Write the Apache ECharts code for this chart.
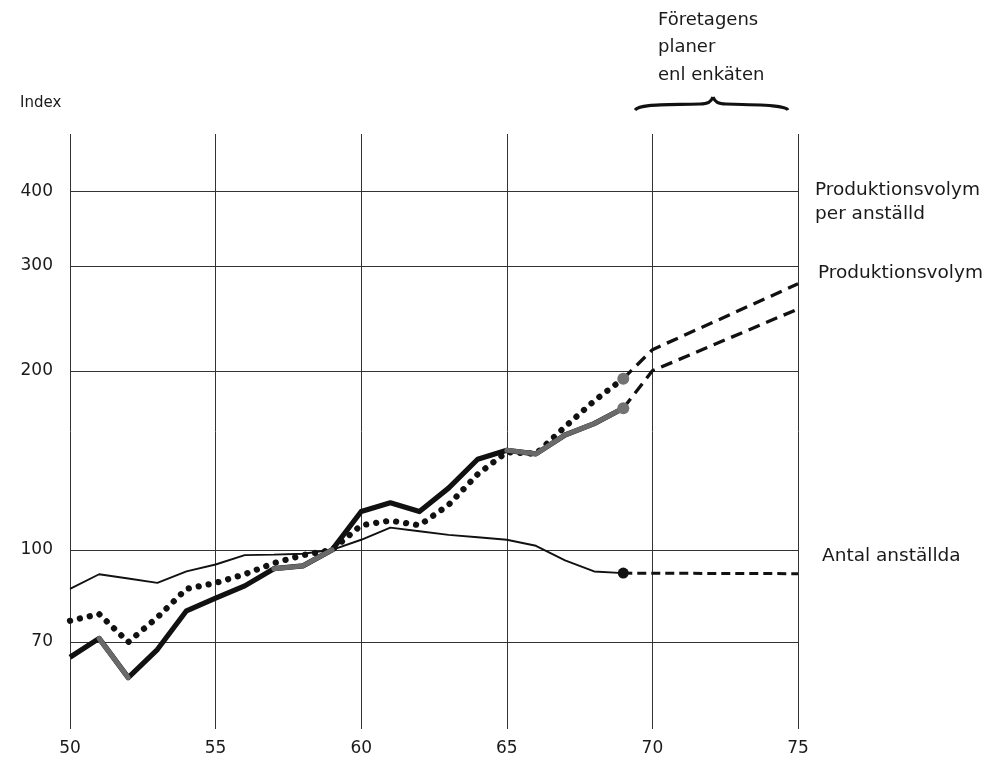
<!DOCTYPE html>
<html>
<head>
<meta charset="utf-8">
<script src="https://cdn.jsdelivr.net/npm/echarts@6/dist/echarts.min.js"></script>
<style>
html,body{margin:0;padding:0;background:#fff;}
#c{width:989px;height:763px;}
</style>
</head>
<body>
<div id="c"></div>
<script>
// ---- data ----
const years = [50,51,52,53,54,55,56,57,58,59,60,61,62,63,64,65,66,67,68,69];
const produktionsvolym = [66,71,61,68,79,83,87,93,94,100,116,120,116,127,142,147,145,156,163,173];
const perAnstalld      = [76,78,70,77,86,88,91,95,98,100,110,112,110,119,134,146,145,161,178,194];
const antalAnstallda   = [86,91,89.5,88,92,94.5,98,98.2,98.5,100,104,109,107.5,106,105,104,101.6,96,92,91.4];
const grayYears = [51,52,57,58,59,65,66,67,68,69];
const projYears = [69,70,75];
const volymProj = [173,200,254];
const perAnstProj = [194,217,280];
const antalProjYears = [69,75];
const antalProj = [91.4,91.2];
const xTicks = [50,55,60,65,70,75];
const yTicks = [70,100,200,300,400];

const pairs = (xs, ys) => xs.map((x,i) => [x, ys[i]]);
const grayData = years.map((y,i) => grayYears.indexOf(y) >= 0 ? [y, produktionsvolym[i]] : [y, null]);
const last = a => a[a.length-1];

const FONT = '"DejaVu Sans", "Liberation Sans", Arial, sans-serif';
const INK = '#111';
const TXT = '#1a1a1a';

const braceStyle = {fill:null, stroke:INK, lineWidth:3.2};
const lbl = (x, y, text, size) => ({type:'text', x:x, y:y,
  style:{text:text, font:(size||18)+'px '+FONT, fill:TXT, verticalAlign:'middle', align:'left'}});

const chart = echarts.init(document.getElementById('c'), null, {renderer:'canvas'});
chart.setOption({
  animation:false,
  backgroundColor:'#fff',
  grid:{left:70, right:191, top:134, bottom:34, containLabel:false},
  xAxis:{
    type:'value', min:50, max:75, interval:5,
    axisLine:{show:false}, axisTick:{show:false},
    axisLabel:{color:TXT, fontSize:17, fontFamily:FONT, margin:11},
    splitLine:{show:true, lineStyle:{color:'#333', width:1}}
  },
  yAxis:{
    type:'log', logBase:10, min:50, max:500,
    axisLine:{show:false},
    axisTick:{show:false, customValues:yTicks},
    axisLabel:{color:TXT, fontSize:17, fontFamily:FONT, margin:17, customValues:yTicks},
    splitLine:{show:true, lineStyle:{color:'#333', width:1}}
  },
  series:[
    {type:'line', data:pairs(years, antalAnstallda), symbol:'none',
     lineStyle:{color:INK, width:1.9}, z:3},
    {type:'line', data:pairs(antalProjYears, antalProj), symbol:'none',
     lineStyle:{color:INK, width:3, type:[9,5]}, z:3},
    {type:'line', data:pairs(years, perAnstalld), symbol:'none',
     lineStyle:{color:INK, width:6.2, type:[0.1,10], cap:'round'}, z:4},
    {type:'line', data:pairs(projYears, perAnstProj), symbol:'none',
     lineStyle:{color:INK, width:3.3, type:[12,7]}, z:4},
    {type:'line', data:pairs(years, produktionsvolym), symbol:'none',
     lineStyle:{color:INK, width:5.2, join:'round'}, z:5},
    {type:'line', data:grayData, symbol:'none', connectNulls:false,
     lineStyle:{color:'#6a6a6a', width:5, join:'round', cap:'round'}, z:6},
    {type:'line', data:pairs(projYears, volymProj), symbol:'none',
     lineStyle:{color:INK, width:3.3, type:[12,7]}, z:4},
    {type:'scatter', data:[[last(years), last(perAnstalld)],[last(years), last(produktionsvolym)]],
     symbol:'circle', symbolSize:12, itemStyle:{color:'#737373', opacity:1}, z:7},
    {type:'scatter', data:[[last(years), last(antalAnstallda)]],
     symbol:'circle', symbolSize:11, itemStyle:{color:INK, opacity:1}, z:7}
  ],
  graphic:[
    lbl(20, 103, 'Index', 15),
    lbl(658, 20, 'Företagens'),
    lbl(658, 47, 'planer'),
    lbl(658, 75, 'enl enkäten'),
    {type:'bezierCurve', shape:{x1:635,y1:110,x2:700,y2:104,cpx1:640,cpy1:104,cpx2:660,cpy2:105}, style:braceStyle},
    {type:'bezierCurve', shape:{x1:700,y1:104,x2:713,y2:97,cpx1:708,cpy1:104,cpx2:711,cpy2:102}, style:braceStyle},
    {type:'bezierCurve', shape:{x1:713,y1:97,x2:726,y2:104,cpx1:715,cpy1:102,cpx2:718,cpy2:104}, style:braceStyle},
    {type:'bezierCurve', shape:{x1:726,y1:104,x2:788,y2:110,cpx1:770,cpy1:105,cpx2:786,cpy2:106}, style:braceStyle},
    lbl(815, 190, 'Produktionsvolym', 18.5),
    lbl(815, 214, 'per anställd', 18.5),
    lbl(818, 273, 'Produktionsvolym', 18.5),
    lbl(822, 556, 'Antal anställda', 18.5)
  ]
});
</script>
</body>
</html>
